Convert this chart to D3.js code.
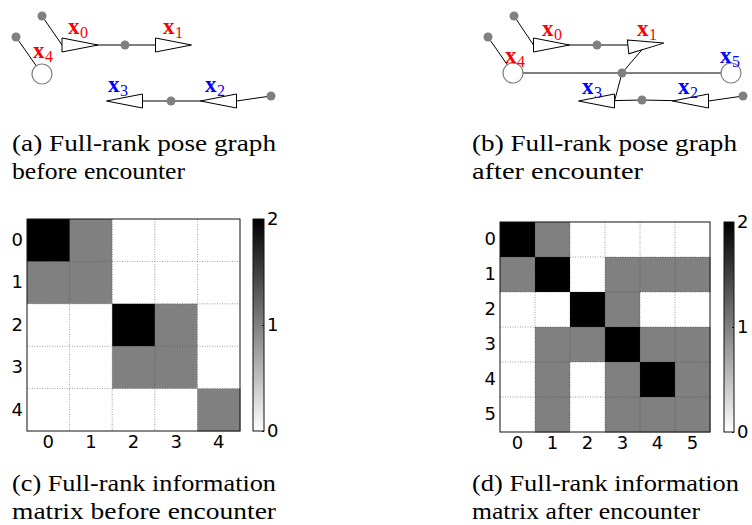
<!DOCTYPE html>
<html>
<head>
<meta charset="utf-8">
<script src="https://cdn.jsdelivr.net/npm/d3@7"></script>
<style>
  body { margin: 0; background: #fff; }
</style>
</head>
<body>
<div id="chart"></div>
<script>
// pose graph before encounter (panel units)
const posesA = [
  { id: "0", kind: "tri", x: 80, y: 45, dir: 0, robot: "r" },
  { id: "1", kind: "tri", x: 173.5, y: 45, dir: 0, robot: "r" },
  { id: "4", kind: "circ", x: 42, y: 74, dir: 0, robot: "r" },
  { id: "3", kind: "tri", x: 124.5, y: 101, dir: 180, robot: "b" },
  { id: "2", kind: "tri", x: 218.5, y: 101, dir: 180, robot: "b" }
];
const factorsA = [[42, 16], [16, 37], [125, 45], [171, 101], [271, 96]];
const edgesA = [[0, "0", "back"], [1, "4"], [2, "0"], [2, "1"], [3, "3"], [3, "2"], [4, "2", "back"]];

// pose graph after encounter
const posesB = [
  { id: "0", kind: "tri", x: 81.5, y: 45, dir: 0, robot: "r" },
  { id: "1", kind: "tri", x: 176, y: 45, dir: -6, robot: "r" },
  { id: "4", kind: "circ", x: 43, y: 73, dir: 0, robot: "r" },
  { id: "5", kind: "circ", x: 261, y: 73, dir: 0, robot: "b" },
  { id: "3", kind: "tri", x: 126.5, y: 101, dir: 180, robot: "b" },
  { id: "2", kind: "tri", x: 220.5, y: 101, dir: 180, robot: "b" }
];
const factorsB = [[44, 16], [18, 37], [127, 45], [152, 73], [172, 100], [273, 96]];
const edgesB = [[0, "0", "back"], [1, "4"], [2, "0"], [2, "1"], [3, "4"], [3, "5"], [3, "1"],
  [3, "3", "back"], [4, "3"], [4, "2"], [5, "2", "back"]];

// information matrices
const infoA = [
  [2, 1, 0, 0, 0],
  [1, 1, 0, 0, 0],
  [0, 0, 2, 1, 0],
  [0, 0, 1, 1, 0],
  [0, 0, 0, 0, 1]
];
const infoB = [
  [2, 1, 0, 0, 0, 0],
  [1, 2, 0, 1, 1, 1],
  [0, 0, 2, 1, 0, 0],
  [0, 1, 1, 2, 1, 1],
  [0, 1, 0, 1, 2, 1],
  [0, 1, 0, 1, 1, 1]
];
const cbarTicks = [0, 1, 2];

const captionA = ["(a) Full-rank pose graph", "before encounter"];
const captionB = ["(b) Full-rank pose graph", "after encounter"];
const captionC = ["(c) Full-rank information", "matrix before encounter"];
const captionD = ["(d) Full-rank information", "matrix after encounter"];

// label offsets from pose centre
const labelOffA = { "0": [-12, -11], "1": [-10.5, -11], "4": [-9, -16], "3": [-16.5, -9], "2": [-13.5, -9] };
const labelOffB = { "0": [-9.5, -9], "1": [-9, -9], "4": [-8, -10], "5": [-11, -10], "3": [-14.5, -7], "2": [-12.5, -7] };

const SERIF = '"Liberation Serif"';
const SANS = '"DejaVu Sans"';

const width = 752, height = 525;
const svg = d3.select("#chart").append("svg")
  .attr("width", width).attr("height", height)
  .attr("viewBox", [0, 0, width, height]);

const robotColor = { r: "#ff0000", b: "#0000ff" };
const triLen = 36, triHalf = 7;

function drawGraph(ox, poses, factors, edges, labelOff) {
  const x = d3.scaleLinear().domain([0, 282]).range([ox, ox + 282]);
  const y = d3.scaleLinear().domain([0, 120]).range([0, 120]);
  const g = svg.append("g");
  const byId = new Map(poses.map(p => [p.id, p]));

  function anchor(p, which) {
    if (which === "back" && p.kind === "tri") {
      const a = p.dir * Math.PI / 180;
      return [p.x - Math.cos(a) * triLen / 2, p.y - Math.sin(a) * triLen / 2];
    }
    return [p.x, p.y];
  }

  g.selectAll("line.edge")
    .data(edges)
    .join("line")
    .attr("class", "edge")
    .attr("x1", d => x(factors[d[0]][0]))
    .attr("y1", d => y(factors[d[0]][1]))
    .attr("x2", d => x(anchor(byId.get(d[1]), d[2])[0]))
    .attr("y2", d => y(anchor(byId.get(d[1]), d[2])[1]))
    .attr("stroke", "#000")
    .attr("stroke-width", 1);

  g.selectAll("path.tri")
    .data(poses.filter(p => p.kind === "tri"))
    .join("path")
    .attr("class", "tri")
    .attr("d", `M${-triLen / 2},${-triHalf}L${triLen / 2},0L${-triLen / 2},${triHalf}Z`)
    .attr("transform", d => `translate(${x(d.x)},${y(d.y)}) rotate(${d.dir})`)
    .attr("fill", "#fff")
    .attr("stroke", "#000")
    .attr("stroke-width", 1);

  g.selectAll("circle.pose")
    .data(poses.filter(p => p.kind === "circ"))
    .join("circle")
    .attr("class", "pose")
    .attr("cx", d => x(d.x))
    .attr("cy", d => y(d.y))
    .attr("r", 10)
    .attr("fill", "#fff")
    .attr("stroke", "#808080")
    .attr("stroke-width", 1.2);

  g.selectAll("circle.factor")
    .data(factors)
    .join("circle")
    .attr("class", "factor")
    .attr("cx", d => x(d[0]))
    .attr("cy", d => y(d[1]))
    .attr("r", 4.5)
    .attr("fill", "#808080");

  const lab = g.selectAll("text.lab")
    .data(poses)
    .join("text")
    .attr("class", "lab")
    .attr("x", d => x(d.x + labelOff[d.id][0]))
    .attr("y", d => y(d.y + labelOff[d.id][1]))
    .attr("fill", d => robotColor[d.robot])
    .style("font-family", SERIF);
  lab.append("tspan")
    .style("font-family", SERIF)
    .style("font-weight", "bold")
    .style("font-size", "23px")
    .text("x");
  lab.append("tspan")
    .style("font-family", SERIF)
    .style("font-size", "16px")
    .attr("dy", 3.5)
    .attr("dx", 0.5)
    .text(d => d.id);
}

function drawMatrix(box, mat, gradId) {
  const n = mat.length;
  const idx = d3.range(n);
  const x = d3.scaleBand().domain(idx).range([box.x0, box.x1]);
  const y = d3.scaleBand().domain(idx).range([box.y0, box.y1]);
  const color = d3.scaleLinear().domain([0, 2]).range(["#ffffff", "#000000"]);
  const g = svg.append("g");

  const cells = mat.flatMap((row, i) => row.map((v, j) => ({ i, j, v })));
  g.selectAll("rect.cell")
    .data(cells)
    .join("rect")
    .attr("class", "cell")
    .attr("x", d => x(d.j))
    .attr("y", d => y(d.i))
    .attr("width", x.bandwidth() + 0.5)
    .attr("height", y.bandwidth() + 0.5)
    .attr("fill", d => color(d.v));

  // dotted grid at cell boundaries
  const inner = idx.slice(1);
  g.selectAll("line.gv")
    .data(inner)
    .join("line")
    .attr("x1", d => x(d)).attr("x2", d => x(d))
    .attr("y1", box.y0).attr("y2", box.y1)
    .attr("stroke", "#333")
    .attr("stroke-width", 0.8)
    .attr("stroke-dasharray", "1,1.5")
    .attr("opacity", 0.6);
  g.selectAll("line.gh")
    .data(inner)
    .join("line")
    .attr("y1", d => y(d)).attr("y2", d => y(d))
    .attr("x1", box.x0).attr("x2", box.x1)
    .attr("stroke", "#333")
    .attr("stroke-width", 0.8)
    .attr("stroke-dasharray", "1,1.5")
    .attr("opacity", 0.6);

  g.append("rect")
    .attr("x", box.x0).attr("y", box.y0)
    .attr("width", box.x1 - box.x0).attr("height", box.y1 - box.y0)
    .attr("fill", "none")
    .attr("stroke", "#111")
    .attr("stroke-width", 1);

  const yAxis = g.append("g")
    .attr("transform", `translate(${box.x0},0)`)
    .call(d3.axisLeft(y).tickSize(0).tickPadding(4));
  const xAxis = g.append("g")
    .attr("transform", `translate(0,${box.y1})`)
    .call(d3.axisBottom(x).tickSize(0).tickPadding(4));
  [yAxis, xAxis].forEach(a => {
    a.select(".domain").remove();
    a.selectAll("text")
      .style("font-family", SANS)
      .style("font-size", "18px")
      .attr("fill", "#000");
  });

  // colorbar
  const grad = svg.append("defs").append("linearGradient")
    .attr("id", gradId)
    .attr("x1", 0).attr("y1", 1).attr("x2", 0).attr("y2", 0);
  grad.selectAll("stop")
    .data(cbarTicks)
    .join("stop")
    .attr("offset", d => d / 2)
    .attr("stop-color", d => color(d));

  const cy = d3.scaleLinear().domain([0, 2]).range([box.y1, box.y0]);
  g.append("rect")
    .attr("x", box.cb0).attr("y", box.y0)
    .attr("width", box.cb1 - box.cb0).attr("height", box.y1 - box.y0)
    .attr("fill", `url(#${gradId})`)
    .attr("stroke", "#111")
    .attr("stroke-width", 1);
  const cAxis = g.append("g")
    .attr("transform", `translate(${box.cb1},0)`)
    .call(d3.axisRight(cy).tickValues(cbarTicks).tickFormat(d3.format("d")).tickSize(-2).tickPadding(3));
  cAxis.select(".domain").remove();
  cAxis.selectAll("line").attr("stroke", "#111");
  cAxis.selectAll("text")
    .style("font-family", SANS)
    .style("font-size", "18px")
    .attr("fill", "#000");
}

function drawCaption(x0, base, lines, lens) {
  svg.append("g")
    .selectAll("text")
    .data(lines)
    .join("text")
    .attr("x", x0)
    .attr("y", (d, i) => base + i * 28)
    .style("font-family", SERIF)
    .style("font-size", "24px")
    .attr("fill", "#000")
    .attr("textLength", (d, i) => lens[i])
    .attr("lengthAdjust", "spacingAndGlyphs")
    .text(d => d);
}

drawGraph(0, posesA, factorsA, edgesA, labelOffA);
drawGraph(470, posesB, factorsB, edgesB, labelOffB);

drawMatrix({ x0: 27, x1: 240, y0: 219, y1: 431, cb0: 253, cb1: 264 }, infoA, "cbA");
drawMatrix({ x0: 500, x1: 710, y0: 222, y1: 432, cb0: 724, cb1: 734 }, infoB, "cbB");

drawCaption(12, 151, captionA, [264, 173]);
drawCaption(472, 151, captionB, [265, 171]);
drawCaption(12, 491, captionC, [264, 264]);
drawCaption(472, 491, captionD, [267, 228]);
</script>
</body>
</html>
